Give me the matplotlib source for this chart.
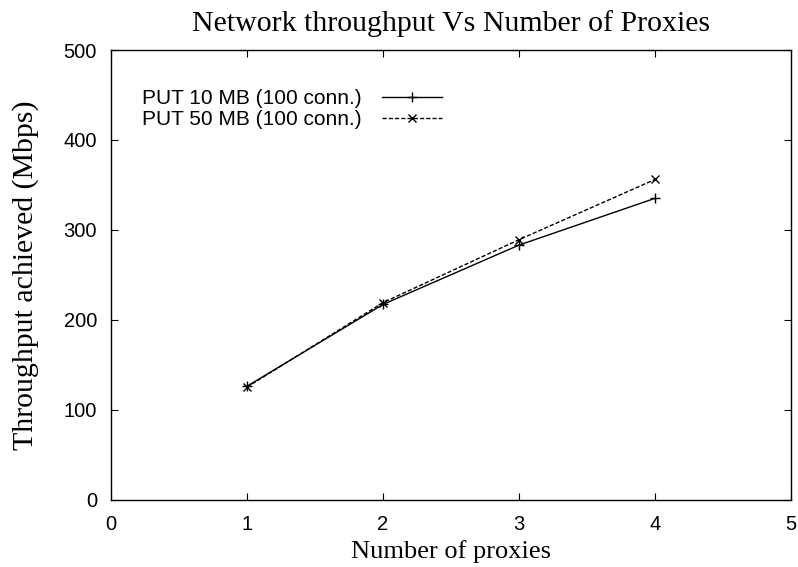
import matplotlib
matplotlib.use("Agg")
import matplotlib.pyplot as plt

proxies = [1, 2, 3, 4]
put10 = [126, 217, 283, 335]
put50 = [125, 219, 289, 356]
labels = ["PUT 10 MB (100 conn.)", "PUT 50 MB (100 conn.)"]
xticks = [0, 1, 2, 3, 4, 5]
yticks = [0, 100, 200, 300, 400, 500]

fig = plt.figure(figsize=(7.98, 5.67), dpi=100)
ax = fig.add_axes([111 / 798, 67.5 / 567, 680 / 798, 449.5 / 567])

serif = ["Liberation Serif", "DejaVu Serif"]
sans = ["Liberation Sans", "DejaVu Sans"]

ax.plot(proxies, put10, color="black", lw=1.0, marker="+", ms=7, mew=1.0, label=labels[0])
ax.plot(proxies, put50, color="black", lw=1.0, ls=(0, (3, 1.5)), marker="x", ms=6, mew=1.0, label=labels[1])

ax.set_xlim(0, 5)
ax.set_ylim(0, 500)
ax.set_xticks(xticks)
ax.set_yticks(yticks)
ax.tick_params(direction="in", top=True, right=True, length=5, width=0.8, labelsize=14.5)
ax.tick_params(axis="x", pad=11)
ax.tick_params(axis="y", pad=10)
for lab in ax.get_xticklabels() + ax.get_yticklabels():
    lab.set_family(sans)
for s in ax.spines.values():
    s.set_linewidth(1.0)

ax.set_title("Network throughput Vs Number of Proxies", family=serif, fontsize=21.5, pad=14)
ax.set_xlabel("Number of proxies", family=serif, fontsize=19, labelpad=4.5)
ax.set_ylabel("Throughput achieved (Mbps)", family=serif, fontsize=21.5, labelpad=18)

leg = ax.legend(loc="upper left", bbox_to_anchor=(0.045, 0.913), frameon=False,
                markerfirst=False, prop={"family": sans, "size": 15},
                handlelength=2.9, handletextpad=1.0, labelspacing=0.1,
                borderaxespad=0, borderpad=0)

fig.savefig("out.png", dpi=100)
